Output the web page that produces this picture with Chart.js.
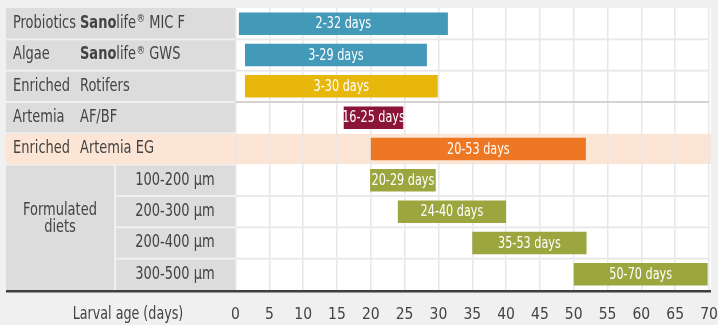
<!DOCTYPE html>
<html><head><meta charset="utf-8">
<script src="https://cdn.jsdelivr.net/npm/chart.js@4"></script>
<style>html,body{margin:0;padding:0;background:#f0f0f0;overflow:hidden}#wrap{width:718px;height:325px;position:relative}</style>
</head><body><div id="wrap"><canvas id="c" width="718" height="325"></canvas></div>
<script>
// ---- data ----
const categories = ['Probiotics Sanolife MIC F','Algae Sanolife GWS','Enriched Rotifers','Artemia AF/BF','Enriched Artemia EG','Formulated diets 100-200 µm','Formulated diets 200-300 µm','Formulated diets 200-400 µm','Formulated diets 300-500 µm'];
const groupLabels = ['Probiotics','Algae','Enriched','Artemia','Enriched','Formulated diets','Formulated diets','Formulated diets','Formulated diets'];
const productLabels = ['Sanolife® MIC F','Sanolife® GWS','Rotifers','AF/BF','Artemia EG','100-200 µm','200-300 µm','200-400 µm','300-500 µm'];
const startDays = [0.5, 1.4, 1.4, 16, 20, 19.9, 24, 35, 50];
const endDays   = [31.4, 28.3, 29.9, 24.8, 51.8, 29.6, 40, 51.9, 69.8];
const barLabels = ['2-32 days','3-29 days','3-30 days','16-25 days','20-53 days','20-29 days','24-40 days','35-53 days','50-70 days'];
const barColors = ['#4399b8','#4399b8','#e7b80b','#8b1538','#ee7724','#9ca63f','#9ca63f','#9ca63f','#9ca63f'];
const xTickLabels = ['0','5','10','15','20','25','30','35','40','45','50','55','60','65','70'];
const axisTitle = 'Larval age (days)';

const FAM = '"DejaVu Sans Condensed","Liberation Sans Narrow",sans-serif';
const TXT = '#434343';

function drawText(ctx, text, x, y, font, sx, align) {
  ctx.save();
  ctx.font = font; ctx.textAlign = align; ctx.textBaseline = 'middle';
  ctx.translate(x, y); ctx.scale(sx, 1);
  ctx.fillText(text, 0, 0);
  const w = ctx.measureText(text).width * sx;
  ctx.restore();
  return w;
}

const tablePlugin = {
  id: 'table',
  beforeDraw(chart) {
    const {ctx, chartArea: ca, scales: {y}} = chart;
    ctx.save();
    ctx.fillStyle = '#f0f0f0'; ctx.fillRect(0, 0, chart.width, chart.height);
    ctx.fillStyle = '#ffffff'; ctx.fillRect(ca.left, ca.top, ca.right - ca.left + 2, ca.bottom - ca.top);
    const L = 6, mid = 114.5, R = ca.left - 0.5;
    categories.forEach((c, i) => {
      const t = y.getPixelForValue(i - 0.5), b = y.getPixelForValue(i + 0.5);
      const t0 = i === 0 ? t : t + 1;
      if (i === 4) { ctx.fillStyle = '#fde5d5'; ctx.fillRect(L, t0 - 0.5, ca.right + 2 - L, b - t0); }
      else if (i < 4) { ctx.fillStyle = '#dcdcdd'; ctx.fillRect(L, t0, R - L, b - t0 - 1); }
      else { ctx.fillStyle = '#dcdcdd'; ctx.fillRect(mid + 1.5, t + 1, R - mid - 1.5, b - t - (i === 8 ? 1 : 2)); }
    });
    const mt = y.getPixelForValue(4.5), mb = y.getPixelForValue(8.5);
    ctx.fillStyle = '#dcdcdd';
    ctx.fillRect(L, mt + 1, mid - 0.5 - L, mb - mt - 1);
    ctx.restore();
  },
  beforeDatasetsDraw(chart) {
    const {ctx, chartArea: ca, scales: {y}} = chart;
    ctx.save();
    [0, 1, 2, 5, 6, 7].forEach(i => {
      const py = y.getPixelForValue(i + 0.5);
      ctx.fillStyle = i === 2 ? '#d3d3d3' : '#e9e9e9';
      ctx.fillRect(ca.left, py - 1, ca.right - ca.left, 2);
    });
    ctx.fillStyle = TXT;
    const f = '17px ' + FAM, fb = 'bold 17px ' + FAM, fs = '10px ' + FAM, SX = 0.85;
    for (let i = 0; i < 5; i++) {
      const py = y.getPixelForValue(i);
      drawText(ctx, groupLabels[i], 13, py, f, SX, 'left');
      const txt = productLabels[i];
      let x = 80;
      if (txt.startsWith('Sanolife®')) {
        x += drawText(ctx, 'Sano', x, py, fb, SX, 'left');
        x += drawText(ctx, 'life', x, py, f, SX, 'left') + 0.5;
        x += drawText(ctx, '®', x, py - 4, fs, 0.95, 'left');
        drawText(ctx, txt.slice(9), x, py, f, SX, 'left');
      } else {
        drawText(ctx, txt, x, py, f, SX, 'left');
      }
    }
    const gc = y.getPixelForValue(6.5) - 8;
    const parts = groupLabels[5].split(' ');
    drawText(ctx, parts[0], 60, gc - 8.5, f, SX, 'center');
    drawText(ctx, parts[1], 60, gc + 8.5, f, SX, 'center');
    for (let i = 5; i < 9; i++) {
      drawText(ctx, productLabels[i], 175, y.getPixelForValue(i), f, SX, 'center');
    }
    ctx.restore();
  },
  afterDatasetsDraw(chart) {
    const {ctx} = chart;
    const meta = chart.getDatasetMeta(0);
    ctx.save();
    ctx.fillStyle = '#ffffff';
    meta.data.forEach((bar, i) => {
      drawText(ctx, barLabels[i], (bar.x + bar.base) / 2, bar.y + 0.5, '16px ' + FAM, 0.78, 'center');
    });
    ctx.restore();
  },
  afterDraw(chart) {
    const {ctx, chartArea: ca, scales: {x}} = chart;
    ctx.save();
    ctx.fillStyle = '#3f3f3f';
    ctx.fillRect(6, ca.bottom, ca.right + 2 - 6, 2.5);
    ctx.fillStyle = TXT;
    drawText(ctx, axisTitle, 128, x.top + 15.5 + 9.3, '17px ' + FAM, 0.83, 'center');
    ctx.restore();
  }
};

new Chart(document.getElementById('c'), {
  type: 'bar',
  data: {
    labels: categories,
    datasets: [{
      data: categories.map((c, i) => [startDays[i], endDays[i]]),
      backgroundColor: barColors,
      borderWidth: 0,
      borderSkipped: false,
      barPercentage: 0.72,
      categoryPercentage: 1
    }]
  },
  options: {
    indexAxis: 'y',
    responsive: false,
    animation: false,
    devicePixelRatio: 1,
    layout: { padding: { left: 235.5, right: 9, top: 8, bottom: 0 } },
    plugins: { legend: { display: false }, tooltip: { enabled: false } },
    scales: {
      y: { display: false },
      x: {
        type: 'linear', min: 0, max: 70,
        afterFit(s) { s.height = 35; },
        grid: { color: '#e8e8e8', lineWidth: 1.5, drawTicks: true, tickLength: 15.5, tickColor: 'rgba(0,0,0,0)' },
        border: { display: false },
        ticks: {
          stepSize: 5, padding: 0, color: TXT, maxRotation: 0,
          font: { family: FAM, size: 15.5 },
          callback: (v, idx) => xTickLabels[idx]
        }
      }
    }
  },
  plugins: [tablePlugin]
});
</script>
</body></html>
